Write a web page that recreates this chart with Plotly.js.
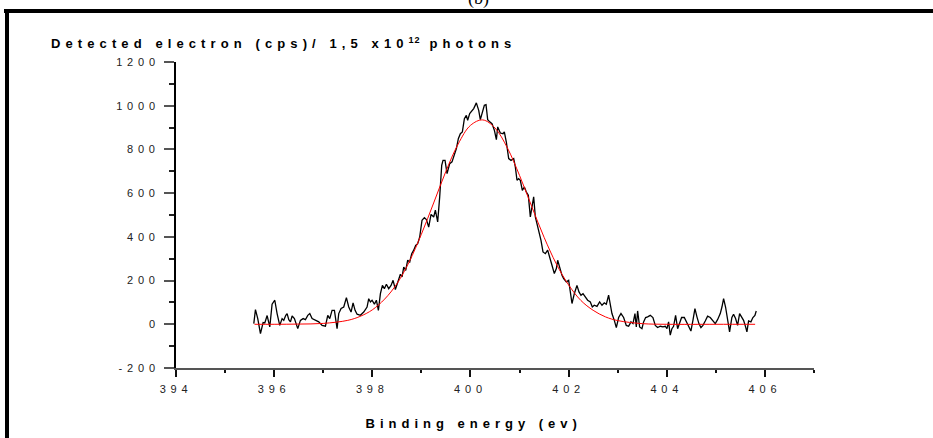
<!DOCTYPE html>
<html>
<head>
<meta charset="utf-8">
<script src="https://cdn.plot.ly/plotly-3.0.1.min.js"></script>
<style>
  html, body { margin: 0; padding: 0; background: #fff; }
  #chart { width: 933px; height: 438px; }
  #chart svg text { letter-spacing: 4.8px; }
  #chart g.annotation[data-index="0"] text { letter-spacing: 5.1px; }
  #chart g.annotation[data-index="0"] text tspan[style*="font-size"] { letter-spacing: 1px; }
  #chart g.annotation[data-index="1"] text { letter-spacing: 5.0px; }
  #chart g.annotation[data-index="2"] text { letter-spacing: 0px; }
</style>
</head>
<body>
<div id="chart"></div>
<script>
// Measured spectrum (black)
const expX = [395.585,395.619,395.666,395.721,395.775,395.809,395.857,395.911,395.958,396.013,396.060,396.114,396.162,396.196,396.237,396.264,396.298,396.332,396.366,396.413,396.481,396.535,396.590,396.637,396.685,396.726,396.773,396.841,396.909,396.977,397.045,397.092,397.133,397.180,397.228,397.282,397.316,397.364,397.418,397.472,397.520,397.567,397.608,397.649,397.690,397.757,397.825,397.893,397.927,397.961,397.995,398.043,398.083,398.124,398.165,398.206,398.246,398.287,398.334,398.382,398.423,398.470,398.518,398.572,398.606,398.640,398.681,398.721,398.762,398.803,398.844,398.884,398.925,398.966,399.013,399.061,399.102,399.149,399.197,399.251,399.285,399.332,399.373,399.414,399.441,399.482,399.523,399.577,399.624,399.672,399.713,399.753,399.794,399.835,399.876,399.916,399.943,399.984,400.032,400.066,400.120,400.168,400.201,400.242,400.283,400.317,400.351,400.392,400.439,400.487,400.528,400.555,400.609,400.663,400.690,400.731,400.779,400.826,400.881,400.914,400.948,400.982,401.016,401.057,401.098,401.139,401.179,401.220,401.254,401.288,401.322,401.356,401.390,401.437,401.478,401.526,401.573,401.614,401.661,401.709,401.750,401.777,401.817,401.865,401.899,401.953,402.001,402.035,402.069,402.116,402.170,402.211,402.252,402.293,402.340,402.388,402.442,402.483,402.523,402.578,402.632,402.680,402.727,402.768,402.815,402.849,402.883,402.931,402.972,403.019,403.067,403.121,403.175,403.223,403.270,403.311,403.352,403.379,403.406,403.447,403.494,403.528,403.569,403.610,403.664,403.718,403.766,403.813,403.868,403.922,403.970,404.004,404.037,404.071,404.105,404.139,404.180,404.221,404.262,404.302,404.357,404.397,404.445,404.492,404.533,404.574,404.615,404.655,404.696,404.737,404.784,404.832,404.886,404.940,404.988,405.035,405.090,405.124,405.158,405.198,405.239,405.280,405.327,405.361,405.402,405.443,405.484,405.531,405.565,405.606,405.633,405.667,405.714,405.755,405.796,405.823];
const expY = [3,67,26,-43,8,6,40,-12,92,110,49,-5,26,18,41,49,21,11,38,26,-20,18,26,21,41,49,26,18,11,-5,-9,41,26,64,64,-20,49,72,79,122,79,56,98,64,46,41,56,79,117,102,110,92,110,64,140,178,163,183,163,178,201,159,189,229,217,262,247,293,285,323,339,361,369,400,476,488,479,445,503,491,522,468,583,727,750,750,689,735,743,781,804,849,872,880,941,956,933,964,979,987,1013,979,936,972,1002,1005,936,926,918,888,845,903,875,872,880,834,758,750,758,720,659,666,659,613,628,605,590,491,537,583,491,461,430,384,331,323,339,300,270,232,255,293,255,224,209,194,201,148,95,140,178,148,133,140,125,110,102,79,87,82,102,87,98,92,133,95,49,18,-15,31,49,31,-5,-9,11,3,49,-12,61,-12,-20,11,31,34,41,31,-5,-15,-9,-12,-9,-20,11,-50,-20,-9,41,-20,11,31,31,11,-15,-31,18,72,34,3,-15,-5,15,37,31,15,3,21,49,79,117,79,18,-35,31,46,26,-5,49,31,18,-12,-35,15,11,31,41,61];

// Fitted curve (red)
const fitX = [395.6,396.0,396.5,397.0,397.5,397.75,398.0,398.25,398.5,398.75,399.0,399.25,399.5,399.75,400.0,400.25,400.5,400.75,401.0,401.25,401.5,401.75,402.0,402.25,402.5,402.75,403.0,403.5,404.0,405.0,405.8];
const fitY = [0,0,1,4,18,36,66,115,185,285,412,555,700,825,910,935,898,808,681,538,398,276,180,109,64,34,17,3,0,0,0];

// Axis ticks
const xTickVals = [394,396,398,400,402,404,406];
const xTickText = ["394","396","398","400","402","404","406"];
const yTickVals = [-200,0,200,400,600,800,1000,1200];
const yTickText = ["-200","0","200","400","600","800","1000","1200"];

const FONT = "Arial, 'Liberation Sans', sans-serif";

// pixel helpers for paper-referenced decoration (plot area: x 176..814, y 62..368)
const L = 176, R = 119, T = 62, B = 70, W = 933, H = 438;
const pw = W - L - R, ph = H - T - B;
const px = v => (v - L) / pw;
const py = v => (H - B - v) / ph;

const traces = [
  {x: expX, y: expY, type: 'scatter', mode: 'lines',
   line: {color: '#000000', width: 1.3}, hoverinfo: 'skip'},
  {x: fitX, y: fitY, type: 'scatter', mode: 'lines',
   line: {color: '#ff0000', width: 1, shape: 'spline', smoothing: 1}, hoverinfo: 'skip'}
];

const layout = {
  width: W, height: H,
  margin: {l: L, r: R, t: T, b: B, pad: 0},
  paper_bgcolor: '#ffffff', plot_bgcolor: '#ffffff',
  showlegend: false,
  font: {family: FONT, color: '#111111', size: 11},
  xaxis: {
    range: [394, 407], autorange: false,
    tickmode: 'array', tickvals: xTickVals, ticktext: xTickText,
    ticks: 'outside', ticklen: 7, tickwidth: 2, tickcolor: '#111',
    ticklabelstandoff: 3,
    minor: {dtick: 1, tick0: 394, ticks: 'outside', ticklen: 3, tickwidth: 2, tickcolor: '#111'},
    showline: true, linecolor: '#555555', linewidth: 2,
    showgrid: false, zeroline: false,
    tickfont: {family: FONT, size: 11, color: '#222'},
    fixedrange: true
  },
  yaxis: {
    range: [-200, 1200], autorange: false,
    tickmode: 'array', tickvals: yTickVals, ticktext: yTickText,
    ticks: 'outside', ticklen: 10, tickwidth: 2, tickcolor: '#555',
    ticklabelstandoff: 2,
    minor: {dtick: 100, tick0: -200, ticks: 'outside', ticklen: 5, tickwidth: 2, tickcolor: '#222'},
    showline: true, linecolor: '#000000', linewidth: 2,
    showgrid: false, zeroline: false,
    tickfont: {family: FONT, size: 11, color: '#222'},
    fixedrange: true
  },
  annotations: [
    {xref: 'paper', yref: 'paper', x: px(283), y: py(43), xanchor: 'center', yanchor: 'middle',
     text: 'Detected electron (cps)/ 1,5 x10<sup>12</sup> photons', showarrow: false,
     font: {family: FONT, size: 13, color: '#000', weight: 'bold'}},
    {xref: 'paper', yref: 'paper', x: px(473), y: py(423), xanchor: 'center', yanchor: 'middle',
     text: 'Binding energy (ev)', showarrow: false,
     font: {family: FONT, size: 13, color: '#000', weight: 'bold'}},
    {xref: 'paper', yref: 'paper', x: px(478), y: py(11), xanchor: 'center', yanchor: 'bottom',
     text: '(b)', showarrow: false,
     font: {family: "'Liberation Serif', 'Times New Roman', serif", size: 18, color: '#000'}}
  ],
  shapes: [
    {type: 'rect', xref: 'paper', yref: 'paper', x0: px(4), x1: px(940), y0: py(13), y1: py(9),
     fillcolor: '#000', line: {width: 0}},
    {type: 'rect', xref: 'paper', yref: 'paper', x0: px(5), x1: px(9), y0: py(445), y1: py(9),
     fillcolor: '#000', line: {width: 0}}
  ]
};

Plotly.newPlot('chart', traces, layout, {displayModeBar: false, staticPlot: true});
</script>
</body>
</html>
